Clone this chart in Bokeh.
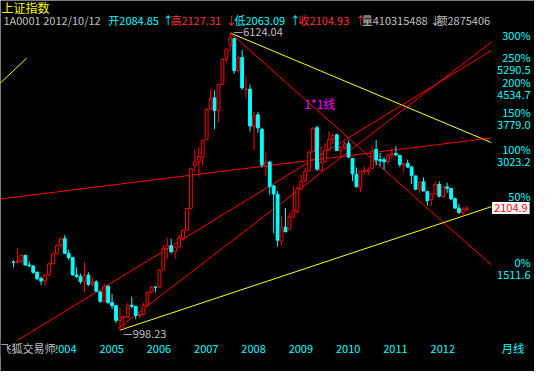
from bokeh.plotting import figure
from bokeh.models import ColumnDataSource, FixedTicker, Label, Range1d
from bokeh.embed import file_html
from bokeh.resources import INLINE

# ---------------- data: Shanghai Composite monthly, 2003-03 .. 2012-10 ----------------
first_month_index = -10          # month index, 0 = Jan 2004
opens = [1512, 1511, 1522, 1577, 1486, 1477, 1421, 1367, 1348, 1398,
         1497, 1592, 1676, 1745, 1595, 1556, 1398, 1386, 1342, 1397, 1321, 1341,
         1261, 1190, 1306, 1181, 1159, 1060, 1079, 1083, 1162, 1155, 1092, 1099,
         1163, 1259, 1299, 1299, 1441, 1644, 1672, 1612, 1660, 1752, 1837, 2100,
         2728, 2786, 2870, 3197, 3850, 4120, 3811, 4474, 5221, 5684, 5915, 4868,
         5273, 4338, 4349, 3461, 3717, 3402, 2714, 2787, 2408, 2288, 1719, 1872,
         1849, 1990, 2061, 2375, 2487, 2639, 2966, 3437, 2646, 2790, 3001, 3196,
         3289, 2981, 3050, 3115, 2845, 2587, 2380, 2635, 2631, 2680, 3012, 2828,
         2825, 2795, 2912, 2937, 2902, 2732, 2763, 2700, 2560, 2363, 2469, 2326,
         2213, 2294, 2430, 2257, 2394, 2370, 2228, 2103, 2046, 2084.85]
highs = [1530, 1650, 1584, 1578, 1518, 1486, 1428, 1385, 1403, 1506,
         1601, 1690, 1760, 1783, 1632, 1560, 1465, 1409, 1512, 1422, 1382, 1355,
         1269, 1329, 1313, 1244, 1165, 1146, 1084, 1180, 1224, 1156, 1100, 1180,
         1262, 1306, 1305, 1445, 1679, 1757, 1745, 1668, 1785, 1846, 2105, 2698,
         2994, 3049, 3185, 3861, 4335, 4312, 4471, 5218, 5552, 6124.04, 5955, 5345,
         5522, 4696, 4473, 3786, 3786, 3437, 2953, 2803, 2425, 2333, 2000, 2101,
         2043, 2402, 2403, 2579, 2689, 2990, 3454, 3478, 3069, 3123, 3361, 3314,
         3306, 3059, 3150, 3181, 2848, 2694, 2640, 2709, 2700, 3067, 3186, 2943,
         2868, 2943, 3040, 3067, 2911, 2773, 2827, 2724, 2560, 2474, 2536, 2327,
         2303, 2479, 2478, 2416, 2453, 2382, 2244, 2159, 2118, 2127.31]
lows = [1466, 1500, 1502, 1478, 1470, 1409, 1354, 1316, 1307, 1391,
        1492, 1590, 1653, 1590, 1535, 1393, 1375, 1325, 1259, 1306, 1304, 1259,
        1178, 1187, 1173, 1138, 1043, 998.23, 1004, 1076, 1141, 1067, 1074, 1093,
        1153, 1248, 1258, 1297, 1440, 1542, 1591, 1541, 1650, 1723, 1837, 2098,
        2621, 2541, 2723, 3195, 3842, 3404, 3563, 4474, 5131, 5462, 4778, 4812,
        4330, 4123, 3357, 2990, 3333, 2694, 2566, 2284, 1802, 1664, 1678, 1814,
        1844, 1990, 2037, 2350, 2460, 2630, 2960, 2640, 2639, 2777, 2991, 3106,
        2987, 2891, 2988, 2862, 2481, 2383, 2319, 2582, 2573, 2680, 2729, 2721,
        2661, 2749, 2831, 2882, 2704, 2610, 2688, 2437, 2345, 2307, 2342, 2134,
        2132, 2292, 2242, 2235, 2308, 2211, 2092, 2030, 1999, 2063.09]
closes = [1511, 1521, 1576, 1487, 1477, 1421, 1367, 1348, 1397, 1497,
          1591, 1675, 1742, 1596, 1556, 1399, 1386, 1342, 1397, 1321, 1341, 1267,
          1191, 1306, 1181, 1159, 1060, 1080, 1083, 1162, 1155, 1092, 1099, 1161,
          1258, 1299, 1298, 1440, 1641, 1672, 1612, 1658, 1752, 1837, 2099, 2675,
          2786, 2881, 3183, 3841, 4109, 3820, 4471, 5218, 5552, 5954, 4871, 5262,
          4383, 4348, 3473, 3693, 3433, 2736, 2775, 2397, 2293, 1729, 1871, 1821,
          1991, 2082, 2373, 2477, 2633, 2959, 3412, 2667, 2779, 2996, 3195, 3277,
          2989, 3051, 3110, 2870, 2592, 2398, 2638, 2639, 2656, 2979, 2820, 2808,
          2791, 2905, 2928, 2911, 2743, 2762, 2701, 2568, 2359, 2468, 2333, 2199,
          2292, 2428, 2263, 2397, 2373, 2226, 2103, 2047, 2086, 2104.93]

year_starts = [0, 12, 24, 36, 48, 60, 72, 84, 96]      # January of each year
year_labels = ["2004", "2005", "2006", "2007", "2008", "2009", "2010", "2011", "2012"]
year_label_shift = 2.9   # the year text starts at January, so its centre sits ~3 months later

pct_levels = [1511.6, 2267.4, 3023.2, 3779.0, 4534.7, 5290.5, 6046.4]
pct_labels = ["0%", "50%", "100%", "150%", "200%", "250%", "300%"]
value_levels = [1511.6, 3023.2, 3779.0, 4534.7, 5290.5]
value_labels = ["1511.6", "3023.2", "3779.0", "4534.7", "5290.5"]

high_idx, high_val = 45, 6124.04
low_idx, low_val = 17, 998.23
last_close = 2104.93

# drawn trend lines: (month index, price) end points
yellow_top = ([45, 111.25], [6124.04, 3136])
red_1x1 = ([45, 111.25], [6124.04, 1485])
yellow_low = ([17, 111.25], [998.23, 2122])
red_flat = ([-13.3, 111.25], [2224, 3228])
red_rise_a = ([-9.36, 111.25], [933, 5508])
red_rise_b = ([16.5, 111.25], [1009, 5797])
yellow_corner = ([-13.3, -6.65], [4515, 5253])

header_items = [("1A0001", 3, "#c0c0c0"), ("2012/10/12", 44, "#c0c0c0"),
                ("开2084.85", 111, "#00ffff"), ("↑", 167, "#00ffff"),
                ("高2127.31", 175, "#ff3232"), ("↓", 232, "#ff3232"),
                ("低2063.09", 241, "#00ffff"), ("↑", 298, "#00ffff"),
                ("收2104.93", 307, "#ff3232"), ("↑", 365, "#ff3232"),
                ("量410315488", 372, "#c0c0c0"), ("↓", 442, "#c0c0c0"),
                ("额2875406", 449, "#c0c0c0")]

# ---------------- figure ----------------
W, H = 534, 371
SX, SY = W / 550.0, H / 387.0
FONT = "Noto Sans CJK SC"
CYAN = "#00ffff"
chart_bottom = 924.6      # price at the bottom edge of the price area

p = figure(width=W, height=H, output_backend="svg", toolbar_location=None, title=None,
           y_axis_type="log", y_axis_location="right",
           x_range=Range1d(-13.3, 122.17), y_range=Range1d(775.8, 7467),
           min_border=0, min_border_left=0, min_border_top=0, min_border_right=0,
           min_border_bottom=0,
           background_fill_color="black", border_fill_color="black",
           outline_line_color=None)
p.grid.visible = False

xa = p.xaxis[0]
xa.fixed_location = chart_bottom
label_pos = [t + year_label_shift for t in year_starts]
xa.ticker = FixedTicker(ticks=label_pos)
xa.major_label_overrides = {t: l for t, l in zip(label_pos, year_labels)}
xa.major_label_text_color = CYAN
xa.major_label_text_font = FONT
xa.major_label_text_font_size = "11px"
xa.major_label_standoff = 2
xa.axis_line_color = None
xa.major_tick_line_color = None
xa.minor_tick_line_color = None
xa.major_tick_out = 0
xa.minor_tick_out = 0

p.yaxis[0].visible = False

# ---------------- trend lines ----------------
for (xs, ys), col in [(yellow_top, "#ffff00"), (red_1x1, "#ff0000"), (yellow_low, "#ffff00"),
                      (red_flat, "#ff0000"), (red_rise_a, "#ff0000"), (red_rise_b, "#ff0000"),
                      (yellow_corner, "#ffff00")]:
    p.line(x=xs, y=ys, line_color=col, line_width=1)

# ---------------- candles ----------------
xs_all = list(range(first_month_index, first_month_index + len(closes)))
up = dict(x=[], o=[], h=[], l=[], c=[], top=[], bot=[])
dn = dict(x=[], o=[], h=[], l=[], c=[], top=[], bot=[])
for x, o, h, l, c in zip(xs_all, opens, highs, lows, closes):
    d = up if c >= o else dn
    d["x"].append(x); d["o"].append(o); d["h"].append(h); d["l"].append(l); d["c"].append(c)
    d["top"].append(max(o, c)); d["bot"].append(min(o, c))
su, sd = ColumnDataSource(up), ColumnDataSource(dn)
p.segment(x0="x", y0="l", x1="x", y1="h", source=sd, line_color=CYAN, line_width=1)
p.vbar(x="x", width=0.72, top="top", bottom="bot", source=sd,
       fill_color=CYAN, line_color=CYAN, line_width=1)
p.segment(x0="x", y0="l", x1="x", y1="h", source=su, line_color="#ff0000", line_width=1)
p.vbar(x="x", width=0.72, top="top", bottom="bot", source=su,
       fill_color="black", line_color="#ff0000", line_width=1)

# ---------------- texts ----------------
def scr_label(text, rx, ry, color, size="11px", **kw):
    p.add_layout(Label(x=rx * SX, y=H - ry * SY, x_units="screen", y_units="screen",
                       text=text, text_color=color, text_font=FONT, text_font_size=size,
                       text_baseline="middle", **kw))

scr_label("上证指数", 1, 7, "#ffff00", "12px")
for txt, rx, col in header_items:
    scr_label(txt, rx, 20, col)
scr_label("1*1线", 313, 107.5, "#ff00ff", "12px")
scr_label("飞狐交易师", 0, 363, "#c0c0c0", "11px", background_fill_color="black")
scr_label("月线", 516, 363, CYAN, "11.5px")

# right-hand scale: percent levels and their prices
for lv, txt in zip(pct_levels, pct_labels):
    p.add_layout(Label(x=546 * SX, y=lv, x_units="screen", y_units="data",
                       text=txt, text_color=CYAN, text_font=FONT, text_font_size="11px",
                       text_baseline="middle", text_align="right"))
for lv, txt in zip(value_levels, value_labels):
    p.add_layout(Label(x=546 * SX, y=lv, x_units="screen", y_units="data", y_offset=-13,
                       text=txt, text_color=CYAN, text_font=FONT, text_font_size="11px",
                       text_baseline="middle", text_align="right"))

p.add_layout(Label(x=545 * SX, y=last_close, x_units="screen", y_units="data",
                   text="%.1f" % last_close, text_color="#ff0000", text_font=FONT,
                   text_font_size="11px", text_baseline="middle", text_align="right",
                   background_fill_color="white", padding=2))

p.add_layout(Label(x=high_idx, y=high_val, x_offset=3, y_offset=2,
                   text="—%.2f" % high_val, text_color="#c0c0c0", text_font=FONT,
                   text_font_size="11px", text_baseline="middle"))
p.add_layout(Label(x=low_idx, y=low_val, x_offset=3, y_offset=-3,
                   text="—%.2f" % low_val, text_color="#c0c0c0", text_font=FONT,
                   text_font_size="11px", text_baseline="middle"))

open("out.html", "w").write(file_html(p, INLINE))
